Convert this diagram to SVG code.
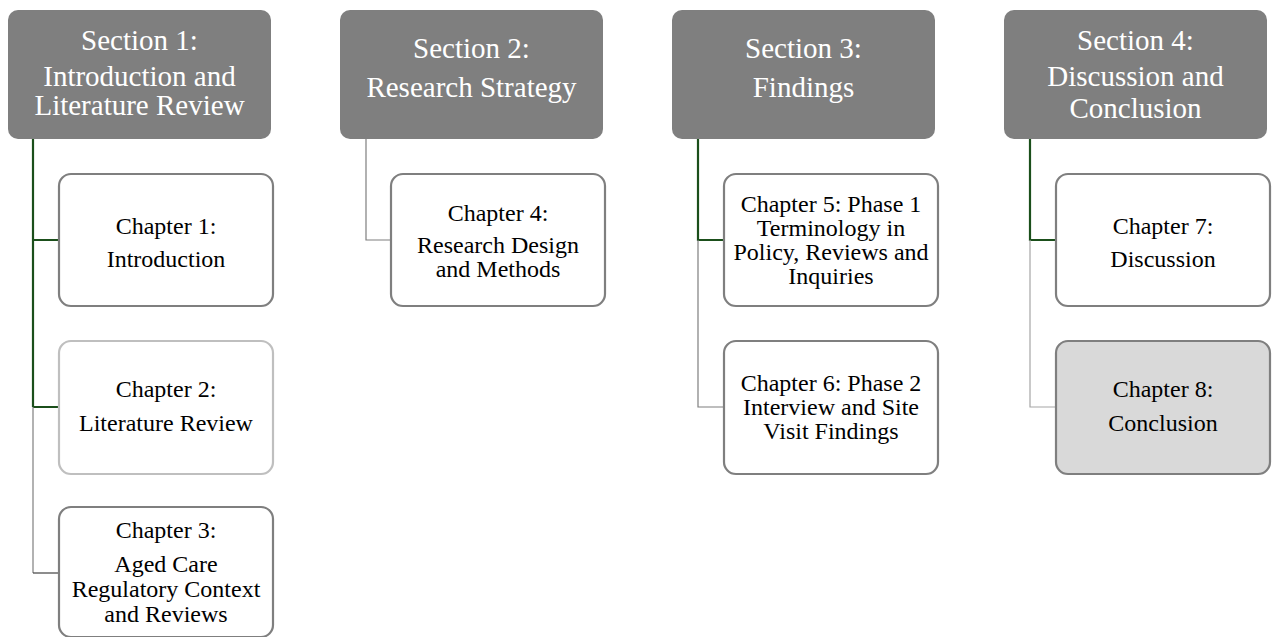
<svg xmlns="http://www.w3.org/2000/svg" width="1275" height="637" viewBox="0 0 1275 637">
  <style>
    .sec rect { fill: #7f7f7f; }
    .sec text { fill: #ffffff; font-family: "Liberation Serif", "Times New Roman", serif; font-size: 29px; text-anchor: middle; }
    .ch rect { fill: #ffffff; stroke: #7f7f7f; stroke-width: 2.2; }
    .ch text { fill: #000000; font-family: "Liberation Serif", "Times New Roman", serif; font-size: 24px; text-anchor: middle; }
    .green { stroke: #1b4f1b; stroke-width: 2.2; fill: none; }
    .thin { stroke: #7f7f7f; stroke-width: 1.2; fill: none; }
    .dark { stroke: #404040; stroke-width: 1.2; fill: none; }
    .light { stroke: #a6a6a6; stroke-width: 1.2; fill: none; }
  </style>

  <rect width="1275" height="637" fill="#ffffff"/>

  <!-- connectors -->
  <g id="connectors">
    <!-- section 1 -->
    <path class="green" d="M33 139 V407 M33 240 H59 M33 407 H59"/>
    <path class="thin" d="M33 407 V573"/>
    <path class="dark" d="M33 573 H59"/>
    <!-- section 2 -->
    <path class="thin" d="M366 139 V240 H391"/>
    <!-- section 3 -->
    <path class="green" d="M698 139 V240 H724"/>
    <path class="thin" d="M698 240 V407 H724"/>
    <!-- section 4 -->
    <path class="green" d="M1030 139 V240 H1056"/>
    <path class="light" d="M1030 240 V407 H1056"/>
  </g>

  <!-- section headers -->
  <g id="section1" class="sec">
    <rect x="8" y="10" width="263" height="129" rx="10"/>
    <text x="139.5" y="50">Section 1:</text>
    <text x="139.5" y="86">Introduction and</text>
    <text x="139.5" y="115">Literature Review</text>
  </g>
  <g id="section2" class="sec">
    <rect x="340" y="10" width="263" height="129" rx="10"/>
    <text x="471.5" y="58">Section 2:</text>
    <text x="471.5" y="97">Research Strategy</text>
  </g>
  <g id="section3" class="sec">
    <rect x="672" y="10" width="263" height="129" rx="10"/>
    <text x="803.5" y="58">Section 3:</text>
    <text x="803.5" y="97">Findings</text>
  </g>
  <g id="section4" class="sec">
    <rect x="1004" y="10" width="263" height="129" rx="10"/>
    <text x="1135.5" y="50">Section 4:</text>
    <text x="1135.5" y="86">Discussion and</text>
    <text x="1135.5" y="118">Conclusion</text>
  </g>

  <!-- chapters -->
  <g id="chapter1" class="ch">
    <rect x="59" y="174" width="214" height="132" rx="12"/>
    <text x="166" y="234">Chapter 1:</text>
    <text x="166" y="267">Introduction</text>
  </g>
  <g id="chapter2" class="ch">
    <rect x="59" y="341" width="214" height="133" rx="12" style="stroke:#bfbfbf"/>
    <text x="166" y="397">Chapter 2:</text>
    <text x="166" y="431">Literature Review</text>
  </g>
  <g id="chapter3" class="ch">
    <rect x="59" y="507" width="214" height="130" rx="12"/>
    <text x="166" y="538">Chapter 3:</text>
    <text x="166" y="572">Aged Care</text>
    <text x="166" y="597">Regulatory Context</text>
    <text x="166" y="622">and Reviews</text>
  </g>
  <g id="chapter4" class="ch">
    <rect x="391" y="174" width="214" height="132" rx="12"/>
    <text x="498" y="221">Chapter 4:</text>
    <text x="498" y="253">Research Design</text>
    <text x="498" y="277">and Methods</text>
  </g>
  <g id="chapter5" class="ch">
    <rect x="724" y="174" width="214" height="132" rx="12"/>
    <text x="831" y="212">Chapter 5: Phase 1</text>
    <text x="831" y="236">Terminology in</text>
    <text x="831" y="260">Policy, Reviews and</text>
    <text x="831" y="284">Inquiries</text>
  </g>
  <g id="chapter6" class="ch">
    <rect x="724" y="341" width="214" height="133" rx="12"/>
    <text x="831" y="391">Chapter 6: Phase 2</text>
    <text x="831" y="415">Interview and Site</text>
    <text x="831" y="439">Visit Findings</text>
  </g>
  <g id="chapter7" class="ch">
    <rect x="1056" y="174" width="214" height="132" rx="12"/>
    <text x="1163" y="234">Chapter 7:</text>
    <text x="1163" y="267">Discussion</text>
  </g>
  <g id="chapter8" class="ch">
    <rect x="1056" y="341" width="214" height="133" rx="12" style="fill:#d9d9d9"/>
    <text x="1163" y="397">Chapter 8:</text>
    <text x="1163" y="431">Conclusion</text>
  </g>
</svg>
